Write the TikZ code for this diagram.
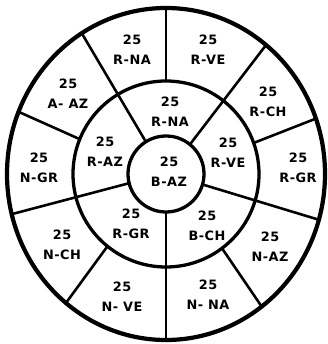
\documentclass[tikz,border=0pt]{standalone}
\usepackage{fontspec}
\newfontfamily\labfont[LetterSpace=4]{DejaVu Sans}
\usetikzlibrary{calc}
\definecolor{inkcol}{RGB}{0,0,0}
\newcommand{\cell}[3]{%
  \node[lab] (#1) at (#2) {25\\#3};}

\begin{document}
\begin{tikzpicture}[
  x=0.03cm, y=0.03cm,
  rim/.style={draw=inkcol, line width=3.6pt},
  ring/.style={draw=inkcol, line width=2.8pt},
  divider/.style={draw=inkcol, line width=2.2pt},
  lab/.style={text=inkcol, font=\labfont\bfseries\fontsize{11}{17}\selectfont, align=center, inner sep=0pt},
]
\useasboundingbox[fill=white] (0,0) rectangle (327,344);
\coordinate (C) at (166,170);

% ===== Rings =====
\draw[rim]  (C) ellipse [x radius=159, y radius=166];
\draw[ring] (C) circle [radius=93];
\draw[ring] (C) circle [radius=38];

% ===== Dividers =====
% through both rings (inner circle -> outer rim)
\foreach \a in {51,122,194,270,344}{%
  \draw[divider] ($(C)+(\a:38)$) -- ($(C)+({159*cos(\a)},{166*sin(\a)})$);}
% outer ring only (middle circle -> outer rim)
\foreach \a in {19.5,90,158,231,307}{%
  \draw[divider] ($(C)+(\a:93)$) -- ($(C)+({159*cos(\a)},{166*sin(\a)})$);}

% ===== Outer ring cells =====
\cell{rnaO}{132,294}{R-NA}
\cell{rveO}{208,294}{R-VE}
\cell{aaz}{68,250}{A- AZ}
\cell{rch}{268,242}{R-CH}
\cell{ngr}{39,176}{N-GR}
\cell{rgrO}{298,176}{R-GR}
\cell{nch}{62,99}{N-CH}
\cell{naz}{270,97}{N-AZ}
\cell{nve}{122,47}{N- VE}
\cell{nna}{208,49}{N- NA}

% ===== Middle ring cells =====
\cell{rnaM}{170,232}{R-NA}
\cell{raz}{105,192}{R-AZ}
\cell{rveM}{228,191}{R-VE}
\cell{rgrM}{131,120}{R-GR}
\cell{bch}{207,118}{B-CH}

% ===== Centre =====
\cell{baz}{169,172}{B-AZ}
\end{tikzpicture}
\end{document}
